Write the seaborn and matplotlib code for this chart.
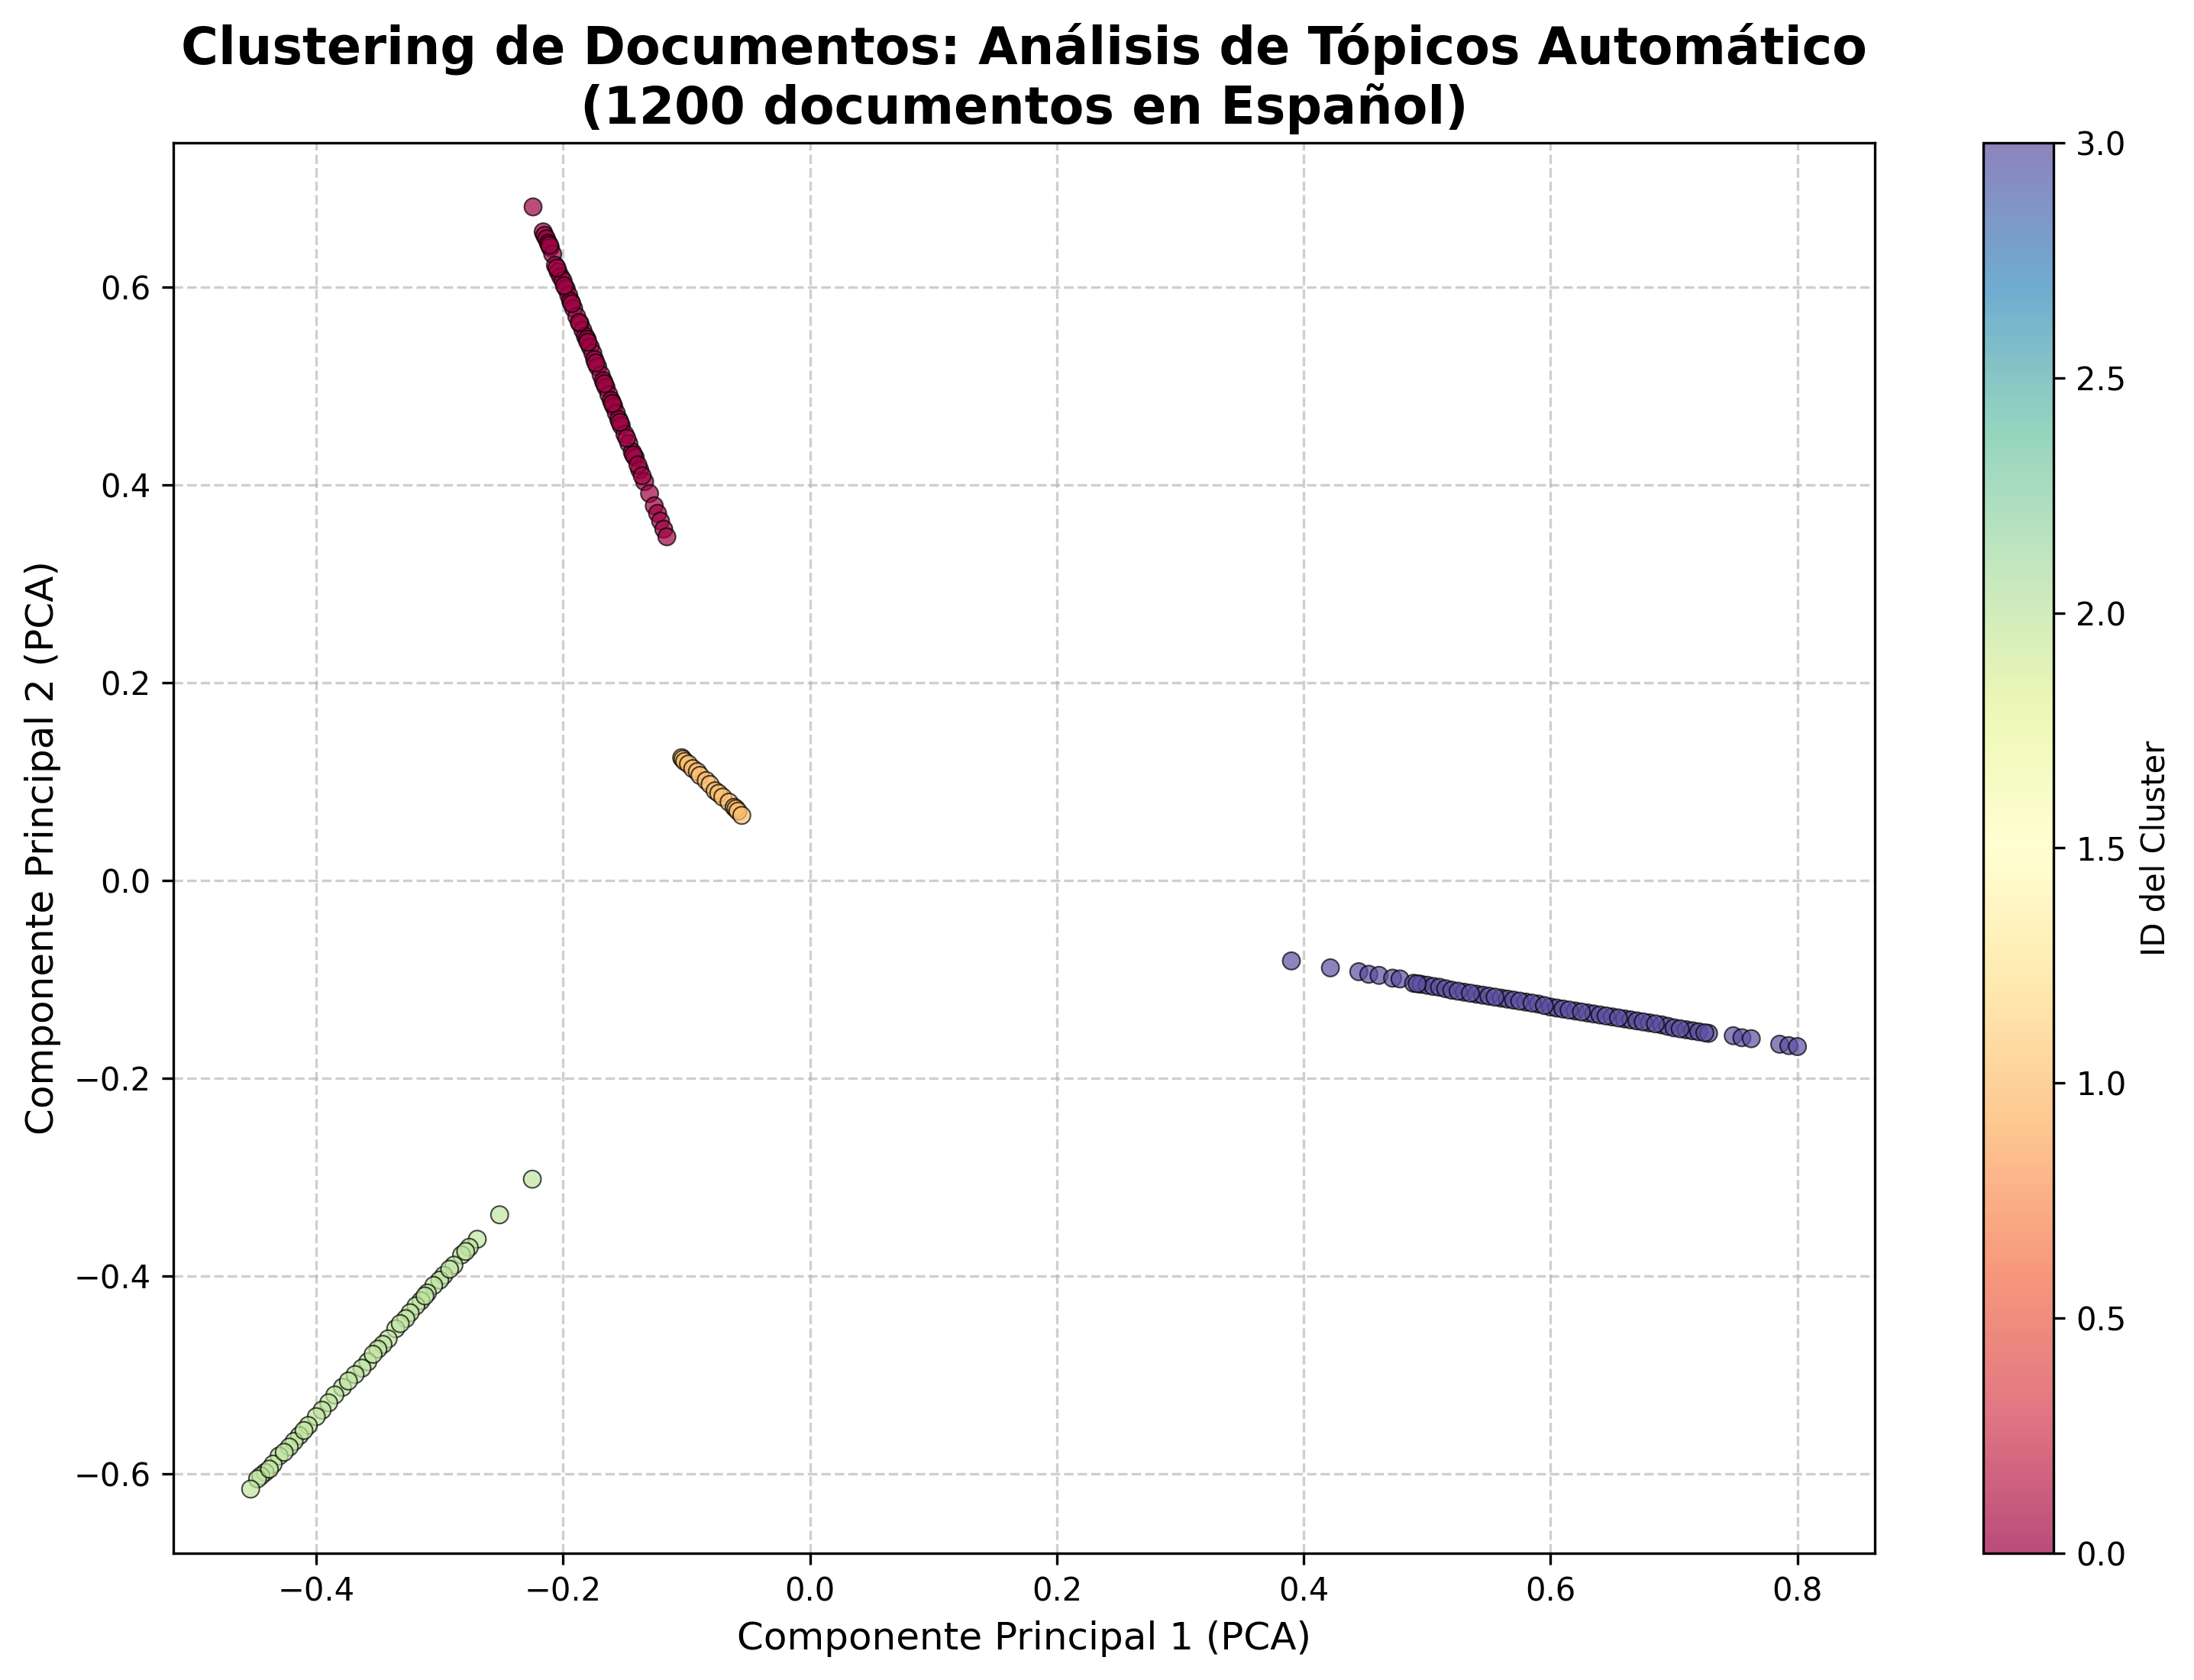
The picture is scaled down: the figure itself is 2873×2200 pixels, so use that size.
import numpy as np
import pandas as pd
import matplotlib
matplotlib.use("Agg")
import matplotlib.pyplot as plt
import seaborn as sns

# ===== DATOS (coordenadas PCA) =====
# Cluster 0 (rojo)
c0_x = [-0.2244, -0.2162, -0.2150, -0.2135, -0.2120, -0.2104, -0.2085, -0.2063, -0.2040,
        -0.2020, -0.2001, -0.1975, -0.1955, -0.1940, -0.1915, -0.1890, -0.1862, -0.1840,
        -0.1820, -0.1806, -0.1780, -0.1760, -0.1745, -0.1720, -0.1693, -0.1675, -0.1652,
        -0.1630, -0.1610, -0.1590, -0.1570, -0.1550, -0.1529, -0.1500, -0.1468, -0.1440,
        -0.1416, -0.1380, -0.1340, -0.1300, -0.1262, -0.1235, -0.1211, -0.1185, -0.1160,
        -0.2110, -0.2050, -0.1990, -0.1930, -0.1870, -0.1800, -0.1735, -0.1665, -0.1600,
        -0.1540, -0.1485, -0.1430, -0.1395, -0.1360]
c0_y = [0.6807, 0.6555, 0.6520, 0.6486, 0.6440, 0.6396, 0.6330, 0.6216, 0.6150,
        0.6100, 0.6061, 0.5980, 0.5915, 0.5856, 0.5780, 0.5700, 0.5625, 0.5560,
        0.5500, 0.5470, 0.5390, 0.5330, 0.5265, 0.5190, 0.5110, 0.5050, 0.4982,
        0.4910, 0.4850, 0.4790, 0.4725, 0.4660, 0.4596, 0.4510, 0.4416, 0.4330,
        0.4275, 0.4150, 0.4030, 0.3910, 0.3786, 0.3710, 0.3632, 0.3550, 0.3473,
        0.6420, 0.6190, 0.6010, 0.5830, 0.5640, 0.5440, 0.5230, 0.5020, 0.4820,
        0.4630, 0.4470, 0.4300, 0.4200, 0.4090]

# Cluster 1 (naranja)
c1_x = [-0.1040, -0.1030, -0.1016, -0.0985, -0.0950, -0.0913, -0.0892, -0.0841,
        -0.0810, -0.0769, -0.0740, -0.0707, -0.0656, -0.0615, -0.0600, -0.0584, -0.0553]
c1_y = [0.1240, 0.1225, 0.1202, 0.1176, 0.1130, 0.1099, 0.1061, 0.1009,
        0.0970, 0.0906, 0.0880, 0.0842, 0.0791, 0.0739, 0.0725, 0.0700, 0.0657]

# Cluster 2 (verde)
c2_x = [-0.2250, -0.2515, -0.2696, -0.2761, -0.2823, -0.2885, -0.2967, -0.3000, -0.3049,
        -0.3100, -0.3152, -0.3193, -0.3240, -0.3275, -0.3357, -0.3418, -0.3460, -0.3501,
        -0.3583, -0.3630, -0.3686, -0.3788, -0.3850, -0.3900, -0.3953, -0.4000, -0.4065,
        -0.4137, -0.4180, -0.4219, -0.4302, -0.4350, -0.4415, -0.4450, -0.4476, -0.4532,
        -0.2790, -0.2920, -0.3120, -0.3320, -0.3540, -0.3740, -0.4100, -0.4260, -0.4380]
c2_y = [-0.3020, -0.3380, -0.3627, -0.3709, -0.3786, -0.3889, -0.3992, -0.4040, -0.4094,
        -0.4170, -0.4249, -0.4300, -0.4370, -0.4429, -0.4532, -0.4634, -0.4690, -0.4738,
        -0.4866, -0.4930, -0.4995, -0.5124, -0.5201, -0.5280, -0.5355, -0.5420, -0.5509,
        -0.5612, -0.5670, -0.5727, -0.5818, -0.5900, -0.5984, -0.6020, -0.6049, -0.6152,
        -0.3750, -0.3930, -0.4200, -0.4480, -0.4790, -0.5060, -0.5560, -0.5780, -0.5950]

# Cluster 3 (morado)
c3_x = [0.3900, 0.4216, 0.4446, 0.4527, 0.4610, 0.4720, 0.4780, 0.4890, 0.4950,
        0.5000, 0.5050, 0.5100, 0.5150, 0.5200, 0.5300, 0.5400, 0.5450, 0.5500,
        0.5600, 0.5650, 0.5700, 0.5800, 0.5900, 0.6000, 0.6050, 0.6100, 0.6200,
        0.6300, 0.6350, 0.6400, 0.6500, 0.6600, 0.6650, 0.6700, 0.6800, 0.6900,
        0.6950, 0.7000, 0.7100, 0.7150, 0.7200, 0.7280, 0.7480, 0.7550, 0.7626,
        0.7856, 0.7930, 0.8000,
        0.4920, 0.5250, 0.5350, 0.5550, 0.5750, 0.5850, 0.5950, 0.6150, 0.6250,
        0.6450, 0.6550, 0.6750, 0.6850, 0.7050, 0.7250]
c3_y = [-0.0814, -0.0884, -0.0923, -0.0949, -0.0960, -0.0988, -0.0996, -0.1040, -0.1050,
        -0.1060, -0.1072, -0.1080, -0.1095, -0.1110, -0.1130, -0.1150, -0.1160, -0.1170,
        -0.1190, -0.1200, -0.1210, -0.1230, -0.1250, -0.1280, -0.1290, -0.1300, -0.1320,
        -0.1340, -0.1350, -0.1360, -0.1380, -0.1400, -0.1410, -0.1420, -0.1440, -0.1460,
        -0.1475, -0.1490, -0.1510, -0.1520, -0.1530, -0.1546, -0.1570, -0.1590, -0.1600,
        -0.1656, -0.1670, -0.1680,
        -0.1045, -0.1120, -0.1140, -0.1180, -0.1220, -0.1240, -0.1265, -0.1310, -0.1330,
        -0.1370, -0.1390, -0.1430, -0.1450, -0.1500, -0.1540]

cluster_ids = [0, 1, 2, 3]
cbar_ticks = [0.0, 0.5, 1.0, 1.5, 2.0, 2.5, 3.0]

# ===== ARMAR DATAFRAME =====
xs = [c0_x, c1_x, c2_x, c3_x]
ys = [c0_y, c1_y, c2_y, c3_y]
df = pd.concat([
    pd.DataFrame({"pc1": x, "pc2": y, "cluster": cid})
    for x, y, cid in zip(xs, ys, cluster_ids)
], ignore_index=True)

# ===== GRAFICO =====
DPI = 300
fig = plt.figure(figsize=(2873 / DPI, 2200 / DPI), dpi=DPI)
ax = fig.add_axes([0.079, 0.0755, 0.7755, 0.8395])
cax = fig.add_axes([0.904, 0.0755, 0.032, 0.8395])

sns.scatterplot(data=df, x="pc1", y="pc2", hue="cluster", palette="Spectral",
                hue_norm=(0, 3), s=30, alpha=0.7, edgecolor="k", linewidth=0.5,
                legend=False, ax=ax)

ax.set_title("Clustering de Documentos: Análisis de Tópicos Automático\n(1200 documentos en Español)",
             fontsize=16, fontweight="bold")
ax.set_xlabel("Componente Principal 1 (PCA)", fontsize=12)
ax.set_ylabel("Componente Principal 2 (PCA)", fontsize=12)
ax.grid(True, linestyle="--", alpha=0.6)
ax.set_axisbelow(True)

# Barra de color
norm = plt.Normalize(0, 3)
sm = plt.cm.ScalarMappable(norm=norm, cmap="Spectral")
cbar = fig.colorbar(sm, cax=cax)
cbar.solids.set_alpha(0.7)
cbar.set_ticks(cbar_ticks)
cbar.set_label("ID del Cluster")

fig.savefig("out.png", dpi=DPI)
